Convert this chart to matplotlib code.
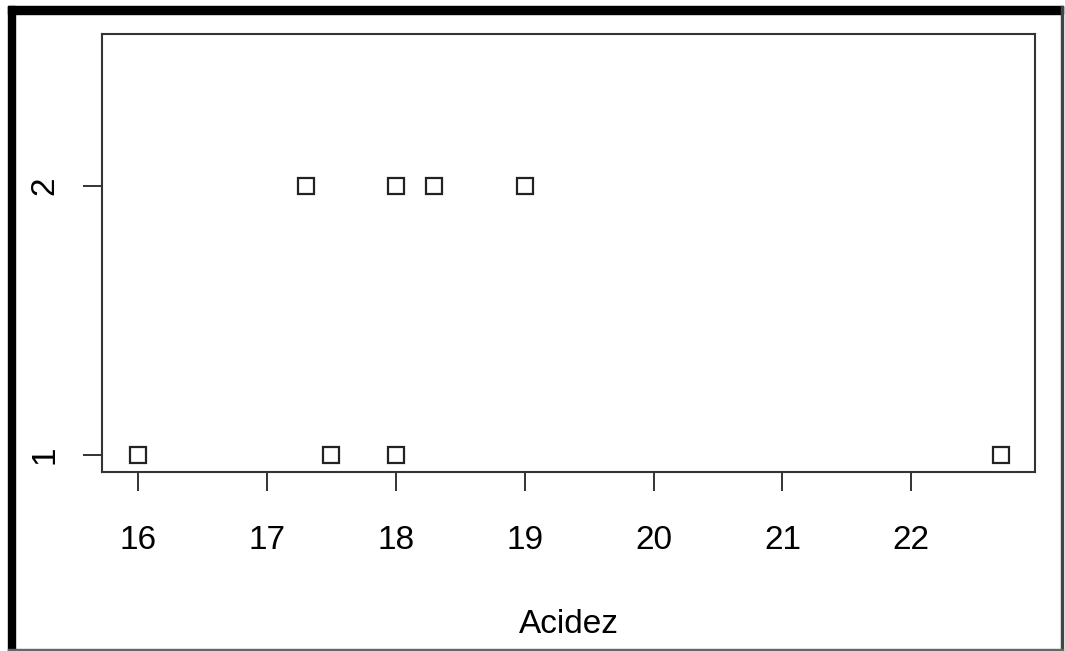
import matplotlib
matplotlib.use("Agg")
import matplotlib.pyplot as plt
from matplotlib.patches import Rectangle

plt.rcParams["font.family"] = ["Liberation Sans", "DejaVu Sans"]

# stripchart data: acidity by group
group1 = [16.0, 17.5, 18.0, 22.7]
group2 = [17.3, 18.0, 18.3, 19.0]
groups = [1, 2]
x_ticks = [16, 17, 18, 19, 20, 21, 22]

W, H = 1065, 651
fig = plt.figure(figsize=(W / 100, H / 100), dpi=100)
ax = fig.add_axes([102 / W, 1 - 472 / H, (1035 - 102) / W, (472 - 34) / H])

for g, vals in zip(groups, [group1, group2]):
    ax.plot(vals, [g] * len(vals), linestyle="none", marker="s", markersize=12,
            markerfacecolor="white", markeredgecolor="#222222", markeredgewidth=1.6)

ax.set_xlim(15.72, 22.96)
ax.set_ylim(0.937, 2.565)
ax.set_xticks(x_ticks)
ax.set_xticklabels([str(t) for t in x_ticks], fontsize=24)
ax.set_yticks(groups)
ax.set_yticklabels([str(g) for g in groups], fontsize=24, rotation=90, va="center")
ax.tick_params(axis="both", length=14, width=1.4, color="#333333")
ax.tick_params(axis="x", pad=24)
ax.tick_params(axis="y", pad=16)
for s in ax.spines.values():
    s.set_linewidth(1.5)
    s.set_color("#333333")
ax.set_xlabel("Acidez", fontsize=24, labelpad=38)

# frame around the screenshot
fig.add_artist(Rectangle((8 / W, 0), 7 / W, 1 - 6 / H, transform=fig.transFigure, color="black"))
fig.add_artist(Rectangle((8 / W, 1 - 14 / H), (1063 - 8) / W, 8 / H, transform=fig.transFigure, color="black"))
fig.add_artist(Rectangle((1061 / W, 0), 2 / W, 1 - 6 / H, transform=fig.transFigure, color="#444444"))
fig.add_artist(Rectangle((8 / W, 0), (1063 - 8) / W, 2 / H, transform=fig.transFigure, color="#666666"))

fig.savefig("out.png", dpi=100)
